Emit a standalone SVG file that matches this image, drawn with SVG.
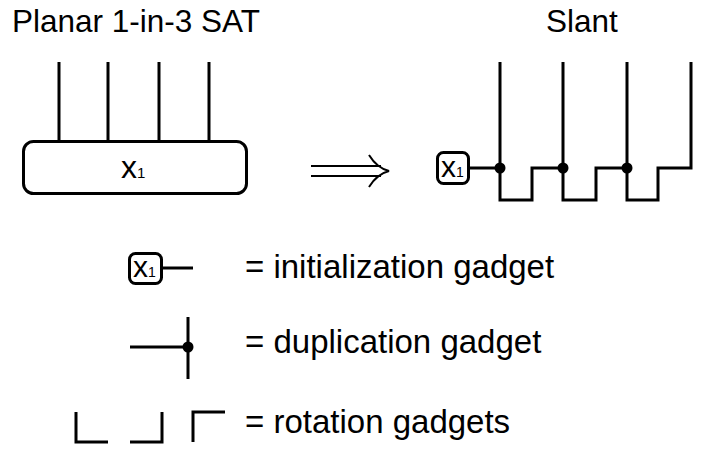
<svg xmlns="http://www.w3.org/2000/svg" width="702" height="456" viewBox="0 0 702 456">
<style>
text{font-family:"Liberation Sans",Arial,sans-serif;fill:#000}
.w{fill:none;stroke:#000;stroke-width:3;stroke-linecap:butt;stroke-linejoin:miter}
.box{fill:#fff;stroke:#000;stroke-width:3}
.dot{fill:#000}
.t{font-size:31.5px}
.l{font-size:33px}
.arr{fill:none;stroke:#000;stroke-width:2}
</style>
<rect width="702" height="456" fill="#fff"/>
<text class="t" x="12" y="32">Planar 1-in-3 SAT</text>
<text class="t" x="546" y="32">Slant</text>

<g id="connectors">
<path class="w" d="M59 62V142M108 62V142M159 62V142M209 62V142"/>
<path class="w" d="M469 168H500M500 62V200H532V168H563M563 62V200H596V168H627M627 62V200H658V168H691V62"/>
<path class="w" d="M162 268H193"/>
<path class="w" d="M130 347H188M188 317V379"/>
</g>

<g id="clause">
<rect class="box" x="23.5" y="141.5" width="223" height="52" rx="10"/>
<text x="121" y="178" font-size="32">x<tspan font-size="15">1</tspan></text>
</g>

<g id="implies">
<path class="arr" d="M311 166H381M311 176H381M369 155Q377 168 389 171Q377 174 369 187"/>
</g>

<g id="init">
<rect class="box" x="437.5" y="152.5" width="31" height="31" rx="6"/>
<text x="441" y="177" font-size="30">x<tspan font-size="14">1</tspan></text>
</g>
<g id="dups">
<circle class="dot" cx="500" cy="168" r="5.5"/>
<circle class="dot" cx="563" cy="168" r="5.5"/>
<circle class="dot" cx="627" cy="168" r="5.5"/>
</g>

<g id="legend-init">
<rect class="box" x="129.5" y="253.5" width="32" height="30" rx="6"/>
<text x="133" y="277" font-size="30">x<tspan font-size="14">1</tspan></text>
<text class="l" x="245" y="278">= initialization gadget</text>
</g>
<g id="legend-dup">
<circle class="dot" cx="188" cy="347" r="5.5"/>
<text class="l" x="245" y="353">= duplication gadget</text>
</g>
<g id="legend-rot">
<path class="w" d="M76 412V442H108M130 442H162V412M193 442V412H225"/>
<text class="l" x="245" y="433">= rotation gadgets</text>
</g>
</svg>
